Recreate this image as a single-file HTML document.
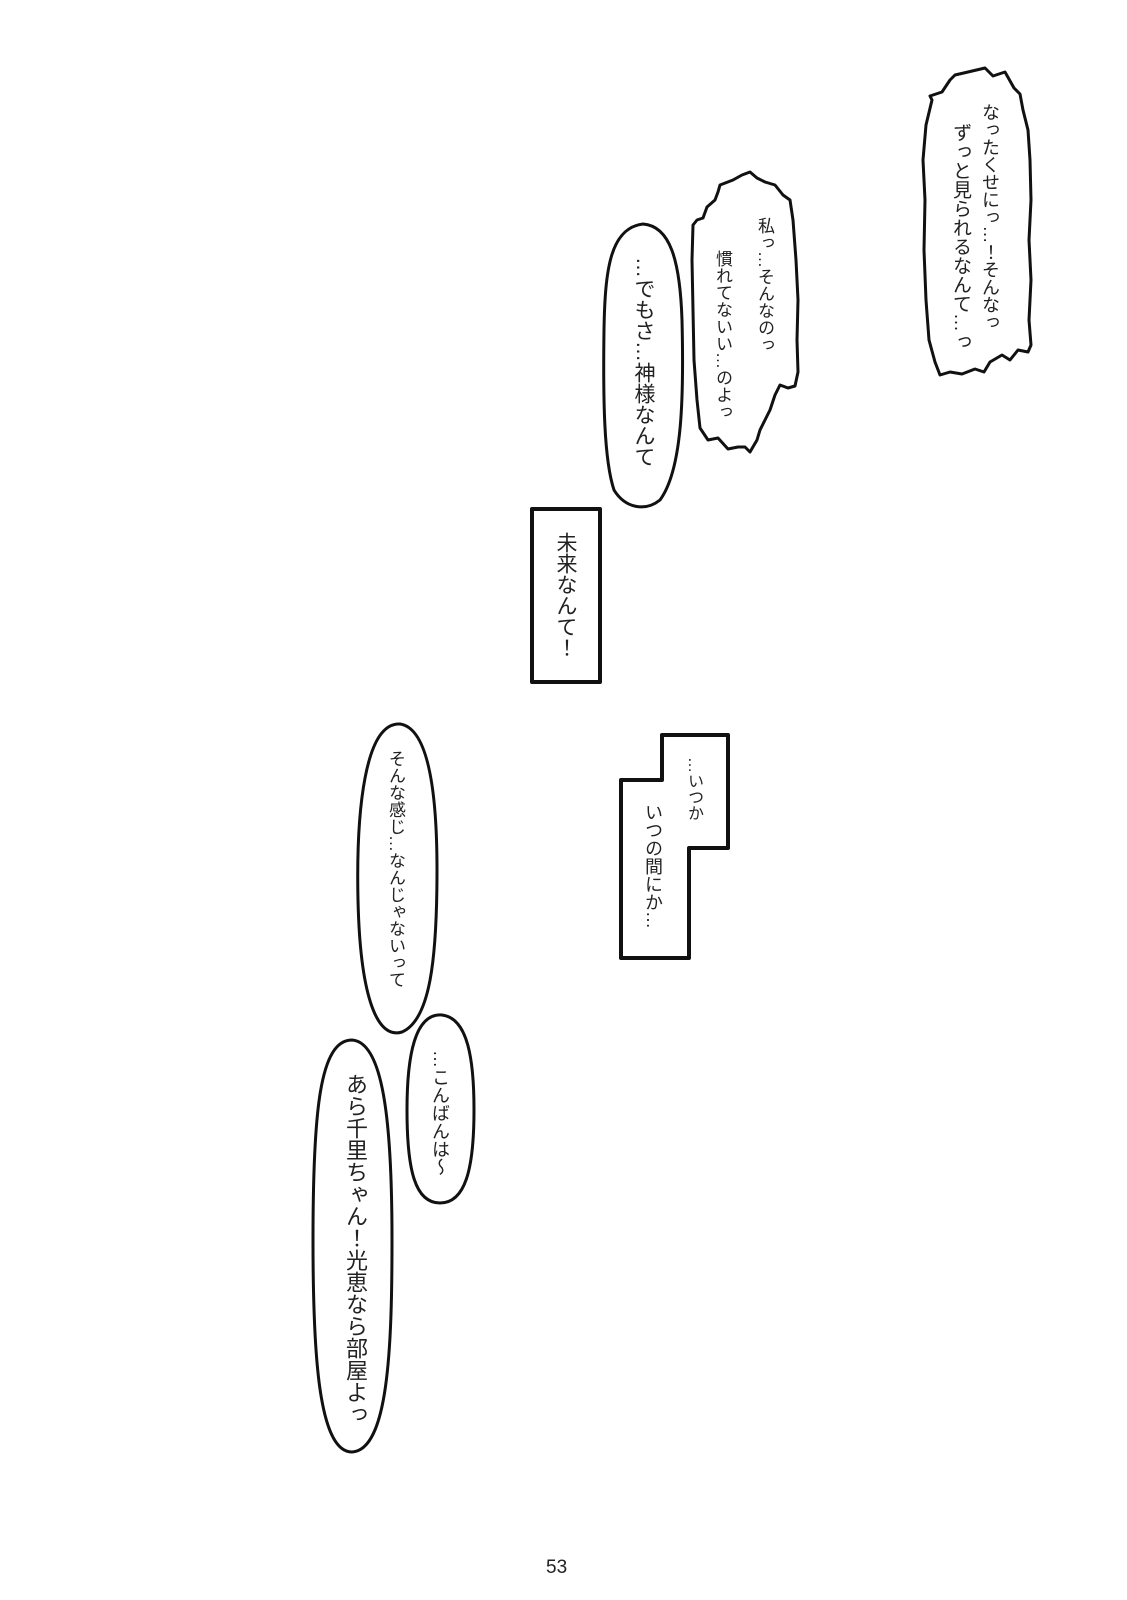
<!DOCTYPE html>
<html><head><meta charset="utf-8"><style>
html,body{margin:0;padding:0;background:#fff;}
body{width:1127px;height:1600px;position:relative;overflow:hidden;}
svg{position:absolute;left:0;top:0;}
.t{position:absolute;writing-mode:vertical-rl;font-family:"Liberation Sans","Noto Sans CJK JP",sans-serif;color:#222;white-space:nowrap;line-height:1;}
.pn{position:absolute;left:546px;top:1557px;font-family:"Liberation Sans",sans-serif;font-size:19px;color:#222;}
</style></head><body>
<svg width="1127" height="1600" viewBox="0 0 1127 1600" fill="#fff" stroke="#111" stroke-width="3" stroke-linejoin="round">
<!-- jagged bubble 1 -->
<path d="M955,75 L968,72 L985,68 L993,76 L1005,72 L1014,88 L1020,94 L1023,110 L1028,130 L1030,160 L1031,200 L1029,240 L1031,280 L1029,320 L1031,345 L1028,352 L1018,350 L1010,360 L1002,355 L990,362 L984,372 L975,369 L962,374 L950,372 L940,375 L935,362 L929,340 L926,300 L924,250 L925,200 L923,160 L926,125 L932,100 L930,96 L942,92 L950,80 Z"/>
<!-- jagged bubble 2 -->
<path d="M720,185 L733,180 L742,175 L750,172 L757,178 L765,182 L775,185 L783,195 L790,200 L793,220 L796,260 L798,300 L797,340 L798,372 L795,386 L788,388 L780,385 L775,395 L770,410 L765,420 L760,430 L757,440 L750,452 L745,447 L738,447 L728,449 L718,438 L708,440 L700,428 L697,400 L694,360 L693,310 L692,260 L693,225 L697,220 L703,218 L707,207 L715,200 L718,192 Z"/>
<!-- oval 3 -->
<path d="M643,224 C670,226 680,260 682,320 C684,400 682,470 660,500 C645,512 625,508 614,490 C604,460 603,400 604,330 C605,270 610,228 643,224 Z"/>
<!-- rect -->
<rect x="532" y="509" width="68" height="173" stroke-width="4"/>
<!-- stepped box -->
<path d="M662,735 L728,735 L728,848 L689,848 L689,958 L621,958 L621,780 L662,780 Z" stroke-width="4"/>
<!-- oval A -->
<path d="M400,724 C428,728 437,790 437,870 C437,960 430,1020 402,1032 C375,1040 360,990 358,900 C356,810 365,722 400,724 Z"/>
<!-- oval B -->
<path d="M442,1015 C468,1018 474,1060 474,1110 C474,1170 465,1203 440,1203 C415,1203 407,1170 407,1110 C407,1055 415,1013 442,1015 Z"/>
<!-- oval C -->
<path d="M352,1040 C383,1042 392,1120 392,1240 C392,1350 388,1450 352,1452 C318,1452 313,1350 313,1240 C313,1110 320,1040 352,1040 Z"/>
</svg>
<div class="t" style="left:981px;top:103px;font-size:18px;letter-spacing:-0.5px;">なったくせにっ…！そんなっ</div>
<div class="t" style="left:951px;top:123px;font-size:19px;">ずっと見られるなんて…っ</div>
<div class="t" style="left:756px;top:217px;font-size:17px;">私っ…そんなのっ</div>
<div class="t" style="left:714px;top:250px;font-size:17px;">慣れてないい…のよっ</div>
<div class="t" style="left:633px;top:257px;font-size:21px;">…でもさ…神様なんて</div>
<div class="t" style="left:555px;top:532px;font-size:21px;">未来なんて！</div>
<div class="t" style="left:685px;top:757px;font-size:16px;">…いつか</div>
<div class="t" style="left:644px;top:803px;font-size:18px;">いつの間にか…</div>
<div class="t" style="left:387px;top:750px;font-size:17px;">そんな感じ…なんじゃないって</div>
<div class="t" style="left:431px;top:1050px;font-size:18px;">…こんばんは〜</div>
<div class="t" style="left:344px;top:1073px;font-size:22px;">あら千里ちゃん！光恵なら部屋よっ</div>
<div class="pn">53</div>
</body></html>
